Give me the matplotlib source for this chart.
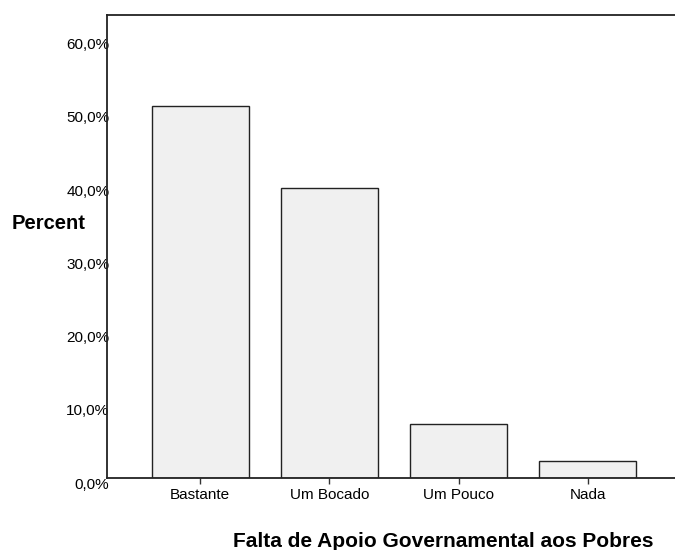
import matplotlib
matplotlib.use("Agg")
import matplotlib.pyplot as plt
import matplotlib.transforms as mtransforms
import numpy as np

plt.rcParams['font.family'] = ['Liberation Sans', 'DejaVu Sans']

# dados
categorias = ['Bastante', 'Um Bocado', 'Um Pouco', 'Nada']
percentagens = [50.8, 39.6, 7.4, 2.3]
y_ticks = [0, 10, 20, 30, 40, 50, 60]
y_labels = ['0,0%', '10,0%', '20,0%', '30,0%', '40,0%', '50,0%', '60,0%']

fig = plt.figure(figsize=(6.75, 5.5), dpi=100)
ax = fig.add_axes([0.158, 0.1304, 0.842, 0.8423])

x = np.arange(len(categorias))
ax.bar(x, percentagens, width=0.75, color='#f0f0f0', edgecolor='#222222', linewidth=1.0)

ax.set_xlim(-0.724, 3.675)
ax.set_ylim(0, 63.2)

ax.set_xticks(x)
ax.set_xticklabels(categorias, fontsize=11)
ax.tick_params(axis='x', length=4, width=1, color='#333333', pad=3)

ax.set_yticks(y_ticks)
ax.set_yticklabels(y_labels, fontsize=11)
ax.tick_params(axis='y', length=0, pad=-2)
off = mtransforms.ScaledTranslation(0, -5 / 100, fig.dpi_scale_trans)
for lab in ax.get_yticklabels():
    lab.set_transform(lab.get_transform() + off)

ax.spines['right'].set_visible(False)
for s in ['left', 'top', 'bottom']:
    ax.spines[s].set_linewidth(1.3)
    ax.spines[s].set_color('#222222')

fig.text(49 / 675, 1 - 229 / 550, 'Percent', fontsize=14.5, fontweight='bold',
         ha='center', va='baseline')
fig.text(443 / 675, 1 - 547 / 550, 'Falta de Apoio Governamental aos Pobres',
         fontsize=15, fontweight='bold', ha='center', va='baseline')

fig.savefig('out.png', dpi=100)
